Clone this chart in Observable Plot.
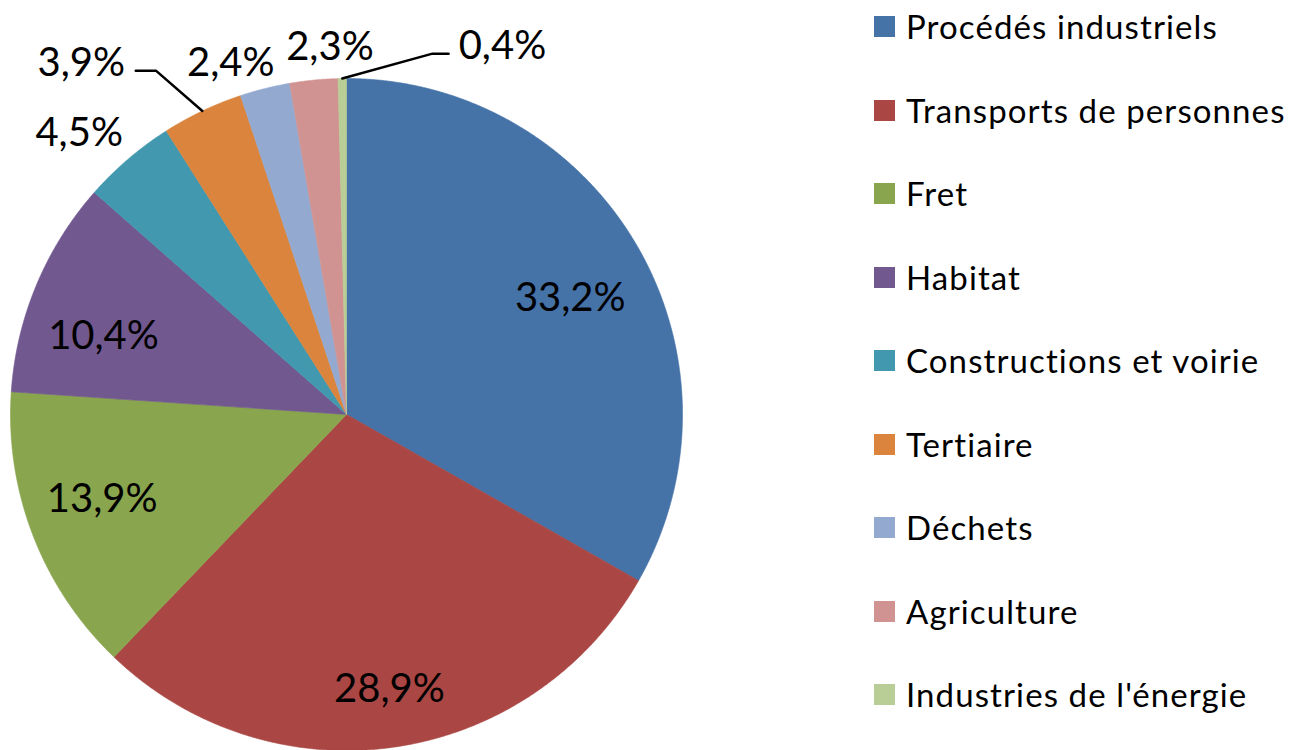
<!DOCTYPE html>
<html><head><meta charset="utf-8">
<script src="https://cdn.jsdelivr.net/npm/d3@7"></script>
<script src="https://cdn.jsdelivr.net/npm/@observablehq/plot@0.6"></script>
<style>
body{margin:0;background:#fff;font-family:Lato, "Open Sans", sans-serif;font-variant-ligatures:none;}
#wrap{position:relative;width:1296px;height:750px;overflow:hidden;}
#legend{position:absolute;left:874px;top:16px;}
.row{display:flex;align-items:center;height:21px;margin-bottom:62.5px;}
.sw{width:21px;height:21px;flex:none;}
.lt{margin-left:11px;font-size:33px;letter-spacing:1.1px;color:#000;white-space:nowrap;line-height:21px;font-variant-ligatures:none;}
svg text{font-variant-ligatures:none;}
</style></head><body><div id="wrap"></div>
<script>
const categories = ["Procédés industriels","Transports de personnes","Fret","Habitat","Constructions et voirie","Tertiaire","Déchets","Agriculture","Industries de l'énergie"];
const shares = [33.2, 28.9, 13.9, 10.4, 4.5, 3.9, 2.4, 2.3, 0.4];
const colors = ["#4572A7","#AA4643","#89A54E","#71588F","#4198AF","#DB843D","#93A9CF","#D19392","#B9CD96"];
const labels = shares.map(v => v.toFixed(1).replace(".", ",") + "%");

// layout for labels (style, not data): radius factor and angle offset (deg) from slice middle
const labelLayout = [
  {r:0.75, da:2.8}, {r:0.826, da:-0.6}, {r:0.77, da:2}, {r:0.76, da:-4.7},
  {r:1.155, da:-3}, null, {r:1.10, da:-4.2}, {r:1.094, da:3}, null
];
// leader-line labels: elbow in polar (r, angle deg), horizontal arm length (data units), side
const leaderLayout = {
  5: {r:1.17, a:331, arm:-0.06, side:"end", gap:0.032},
  8: {r:1.104, a:13.4, arm:0.048, side:"start", gap:0.03}
};

const total = d3.sum(shares);
const rad = d => d * Math.PI / 180;
const pt = (r, aDeg) => ({x: r * Math.sin(rad(aDeg)), y: r * Math.cos(rad(aDeg))});

let acc = 0;
const slices = shares.map((v, i) => {
  const a0 = acc / total * 360; acc += v; const a1 = acc / total * 360;
  return {cat: categories[i], a0, a1, mid: (a0 + a1) / 2, label: labels[i]};
});

const poly = [];
slices.forEach(s => {
  poly.push({cat: s.cat, x: 0, y: 0});
  const n = Math.max(2, Math.ceil((s.a1 - s.a0) / 0.25));
  for (let k = 0; k <= n; k++) {
    const p = pt(1, s.a0 + (s.a1 - s.a0) * k / n);
    poly.push({cat: s.cat, ...p});
  }
  poly.push({cat: s.cat, x: 0, y: 0});
});

const textPts = [];
const leaders = [];
slices.forEach((s, i) => {
  if (labelLayout[i]) {
    const L = labelLayout[i];
    textPts.push({...pt(L.r, s.mid + L.da), label: s.label, anchor: "middle"});
  } else if (leaderLayout[i]) {
    const L = leaderLayout[i];
    const p0 = pt(1, s.mid);
    const p1 = pt(L.r, L.a);
    const p2 = {x: p1.x + L.arm, y: p1.y};
    leaders.push({id: i, ...p0}, {id: i, ...p1}, {id: i, ...p2});
    const dx = L.side === "end" ? -L.gap : L.gap;
    textPts.push({x: p2.x + dx, y: p2.y + 0.022, label: s.label, anchor: L.side});
  }
});

const chart = Plot.plot({
  width: 1296, height: 750,
  marginLeft: 10, marginRight: 614, marginTop: 78, marginBottom: 0,
  x: {domain: [-1, 1], axis: null},
  y: {domain: [-1, 1], axis: null},
  color: {domain: categories, range: colors},
  style: {fontFamily: "Lato, 'Open Sans', sans-serif", background: "#fff", overflow: "visible"},
  marks: [
    Plot.line(poly, {x: "x", y: "y", z: "cat", fill: "cat", stroke: "cat", strokeWidth: 0.6, curve: "linear"}),
    Plot.line(leaders, {x: "x", y: "y", z: "id", stroke: "#000", strokeWidth: 2.5, curve: "linear"}),
    Plot.text(textPts.filter(d => d.anchor === "middle"), {x: "x", y: "y", text: "label", fontSize: 40, fill: "#000", textAnchor: "middle"}),
    Plot.text(textPts.filter(d => d.anchor === "end"), {x: "x", y: "y", text: "label", fontSize: 40, fill: "#000", textAnchor: "end"}),
    Plot.text(textPts.filter(d => d.anchor === "start"), {x: "x", y: "y", text: "label", fontSize: 40, fill: "#000", textAnchor: "start"})
  ]
});
const wrap = document.getElementById("wrap");
wrap.appendChild(chart);

const legend = document.createElement("div");
legend.id = "legend";
categories.forEach((c, i) => {
  const row = document.createElement("div"); row.className = "row";
  const sw = document.createElement("div"); sw.className = "sw"; sw.style.background = colors[i];
  const t = document.createElement("span"); t.className = "lt"; t.textContent = c;
  row.appendChild(sw); row.appendChild(t); legend.appendChild(row);
});
wrap.appendChild(legend);
</script></body></html>
